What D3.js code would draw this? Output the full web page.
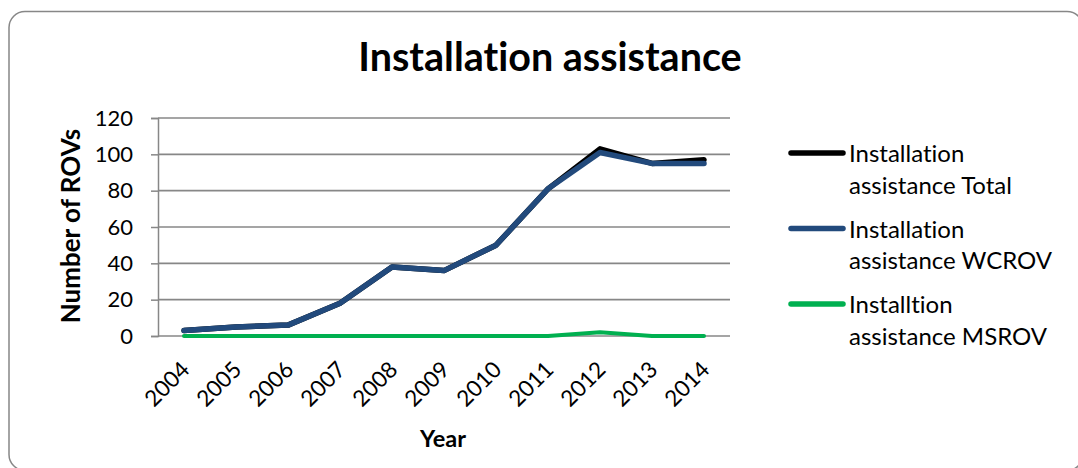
<!DOCTYPE html>
<html>
<head>
<meta charset="utf-8">
<script src="https://cdn.jsdelivr.net/npm/d3@7"></script>
<style>
  html, body { margin: 0; padding: 0; background: #fff; }
  svg { display: block; font-family: Lato, "Open Sans", sans-serif; }
  svg text { font-variant-ligatures: none; font-feature-settings: "liga" 0, "clig" 0; }
</style>
</head>
<body>
<svg id="chart" width="1078" height="468"></svg>
<script>
// Years on the category axis
const years = ["2004", "2005", "2006", "2007", "2008", "2009", "2010", "2011", "2012", "2013", "2014"];

// Number of ROVs per year
const totalValues = [3, 5, 6, 18, 38, 36, 50, 81, 103, 95, 97];
const wcrovValues = [3, 5, 6, 18, 38, 36, 50, 81, 101, 95, 95];
const msrovValues = [0, 0, 0, 0, 0, 0, 0, 0, 2, 0, 0];

const yTicks = [0, 20, 40, 60, 80, 100, 120];

const seriesNames = ["Installation assistance Total", "Installation assistance WCROV", "Installtion assistance MSROV"];
const seriesColors = ["#000000", "#224a7c", "#00b050"];

const series = [
  { name: seriesNames[0], values: totalValues, color: seriesColors[0], width: 5.5 },
  { name: seriesNames[1], values: wcrovValues, color: seriesColors[1], width: 5.5 },
  { name: seriesNames[2], values: msrovValues, color: seriesColors[2], width: 4 }
];

const svg = d3.select("#chart");
const FONT = "Lato, 'Open Sans', sans-serif";

// outer frame with rounded corners
svg.append("rect")
  .attr("x", 9).attr("y", 11.5)
  .attr("width", 1074).attr("height", 459)
  .attr("rx", 16).attr("ry", 16)
  .attr("fill", "#fff")
  .attr("stroke", "#878787")
  .attr("stroke-width", 1.5);

const plot = { left: 158, right: 730, top: 118, bottom: 336 };

const x = d3.scaleBand().domain(years).range([plot.left, plot.right]);
const y = d3.scaleLinear().domain([0, 120]).range([plot.bottom, plot.top]);

// title
svg.append("text")
  .attr("x", 550).attr("y", 71)
  .attr("text-anchor", "middle")
  .attr("font-size", 39.5).attr("font-weight", "bold")
  .attr("fill", "#000")
  .text("Installation assistance");

// y axis with ticks
const yAxis = d3.axisLeft(y).tickValues(yTicks).tickSize(7).tickPadding(18);
const gy = svg.append("g").attr("transform", `translate(${plot.left},0)`).call(yAxis);
gy.select(".domain").attr("stroke", "#878787").attr("stroke-width", 1.5);
gy.selectAll(".tick line").attr("stroke", "#878787").attr("stroke-width", 1.5);
gy.selectAll(".tick text").attr("font-size", 22).attr("fill", "#000").attr("font-family", FONT);

// horizontal gridlines
svg.append("g")
  .selectAll("line")
  .data(yTicks)
  .join("line")
  .attr("x1", plot.left).attr("x2", plot.right)
  .attr("y1", d => y(d)).attr("y2", d => y(d))
  .attr("stroke", "#878787").attr("stroke-width", 1.7);

// x axis labels, rotated
const gx = svg.append("g").attr("transform", `translate(0,${plot.bottom})`)
  .call(d3.axisBottom(x).tickSize(0).tickPadding(0));
gx.select(".domain").remove();
gx.selectAll(".tick text")
  .attr("font-size", 22.5).attr("fill", "#000").attr("font-family", FONT)
  .attr("text-anchor", "end")
  .attr("y", 0)
  .attr("dy", 0)
  .attr("transform", "translate(7,35) rotate(-45)");

// axis titles
svg.append("text")
  .attr("transform", `translate(80,226) rotate(-90)`)
  .attr("text-anchor", "middle")
  .attr("font-size", 26).attr("font-weight", "bold")
  .text("Number of ROVs");

svg.append("text")
  .attr("x", 443).attr("y", 447)
  .attr("text-anchor", "middle")
  .attr("font-size", 23.5).attr("font-weight", "bold")
  .text("Year");

// series lines
const line = d3.line()
  .x((d, i) => x(years[i]) + x.bandwidth() / 2)
  .y(d => y(d));

svg.append("g")
  .selectAll("path")
  .data(series)
  .join("path")
  .attr("d", d => line(d.values))
  .attr("fill", "none")
  .attr("stroke", d => d.color)
  .attr("stroke-width", d => d.width)
  .attr("stroke-linejoin", "round")
  .attr("stroke-linecap", "round");

// legend
const legendRows = [
  ["Installation", "assistance Total"],
  ["Installation", "assistance WCROV"],
  ["Installtion", "assistance MSROV"]
];
const legend = svg.append("g");
series.forEach((s, i) => {
  const ly = 153 + i * 75.5;
  legend.append("line")
    .attr("x1", 791).attr("x2", 843)
    .attr("y1", ly).attr("y2", ly)
    .attr("stroke", s.color).attr("stroke-width", 5.5)
    .attr("stroke-linecap", "round");
  const t = legend.append("text")
    .attr("x", 849).attr("y", ly + 9)
    .attr("font-size", 24).attr("fill", "#000");
  t.append("tspan").attr("x", 849).text(legendRows[i][0]);
  t.append("tspan").attr("x", 849).attr("dy", 31.5).text(legendRows[i][1]);
});
</script>
</body>
</html>
